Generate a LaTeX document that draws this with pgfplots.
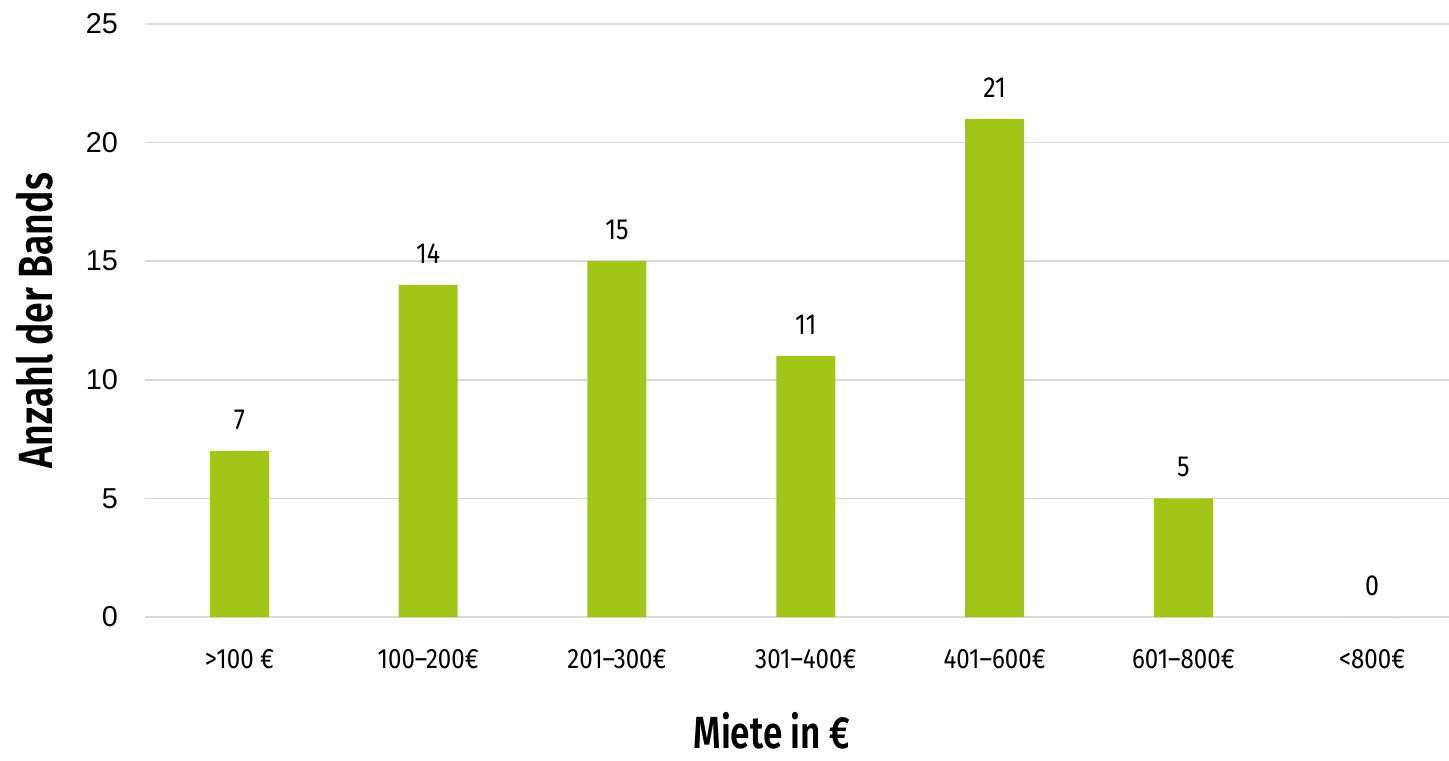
\documentclass[border=0pt]{standalone}
\usepackage{pgfplots}
\pgfplotsset{compat=1.18}
\usepackage{fontspec}
\setmainfont{Liberation Sans}
\newfontfamily\din[FakeStretch=0.86]{Fira Sans}
\newfontfamily\dinb[FakeStretch=0.78]{Fira Sans SemiBold}
\definecolor{bargreen}{HTML}{A2C617}
\definecolor{gridgray}{HTML}{D9D9D9}
\begin{document}
\begin{tikzpicture}
\useasboundingbox (-72.5pt,-71.5pt) rectangle (652pt,308.5pt);
\begin{axis}[
  scale only axis,
  width=660.8pt, height=296.5pt,
  xmin=-0.5, xmax=6.5,
  ymin=0, ymax=25,
  ytick={0,5,10,15,20,25},
  xtick={0,1,2,3,4,5,6},
  xticklabels={{>100 €},{100–200€},{201–300€},{301–400€},{401–600€},{601–800€},{<800€}},
  axis line style={draw=none},
  major tick length=0pt,
  ymajorgrids,
  grid style={gridgray, line width=0.8pt},
  /pgf/number format/assume math mode=true,
  yticklabel style={font=\fontsize{14.4}{16}\selectfont, xshift=-10pt},
  xticklabel style={font=\din\fontsize{14}{16}\selectfont, yshift=-12.5pt},
  xlabel={Miete in €},
  ylabel={Anzahl der Bands},
  xlabel style={font=\dinb\fontsize{22.5}{26}\selectfont, inner sep=0pt, at={([yshift=-57pt]rel axis cs:0.4744,0)}, anchor=center},
  ylabel style={font=\dinb\fontsize{24}{27}\selectfont, inner sep=0pt, at={([xshift=-55pt]rel axis cs:0,0.5)}, anchor=center},
  nodes near coords,
  nodes near coords style={font=\din\fontsize{14.5}{16}\selectfont, anchor=south, inner sep=0pt, yshift=10.5pt},
  clip=false,
]
\addplot[ybar, bar width=29.5pt, fill=bargreen, draw=none] coordinates {
  (0,7) (1,14) (2,15) (3,11) (4,21) (5,5) (6,0)
};
\end{axis}
\end{tikzpicture}
\end{document}
